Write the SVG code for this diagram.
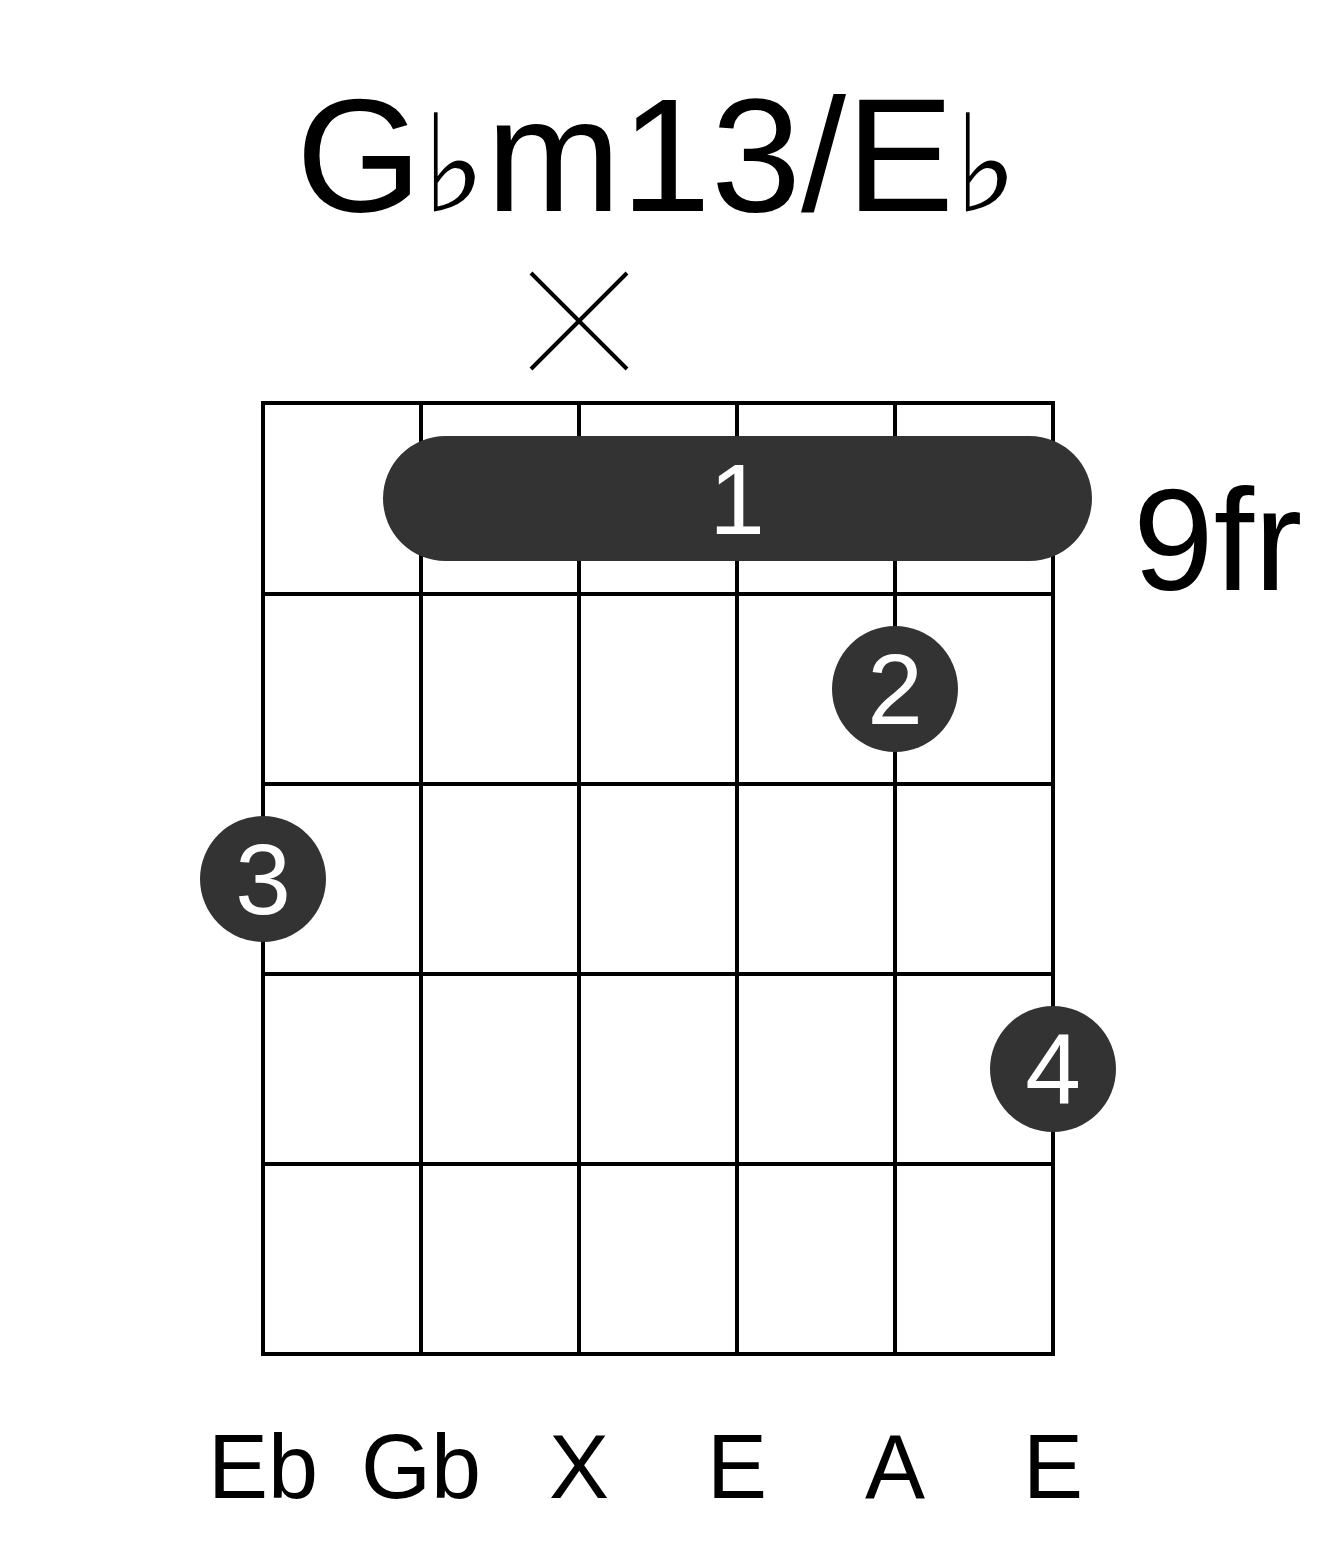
<svg xmlns="http://www.w3.org/2000/svg" width="1317" height="1551" viewBox="0 0 1317 1551">
<style>
text{font-family:"Liberation Sans",Arial,sans-serif;}
.g{stroke:#000;stroke-width:4;fill:none}
.d{fill:#333}
.w{fill:#fff;font-size:100px;text-anchor:middle}
.l{font-size:90px;text-anchor:middle}
</style>
<rect width="1317" height="1551" fill="#fff"/>
<g id="title"><text x="657" y="211" font-size="162" text-anchor="middle">G<tspan font-size="135">♭</tspan>m13/E<tspan font-size="135">♭</tspan></text></g>
<g id="mute"><path class="g" d="M531 273L627 369M627 273L531 369"/></g>
<g id="grid">
<rect class="g" x="263" y="403" width="790" height="951"/>
<path class="g" d="M421 403V1354M579 403V1354M737 403V1354M895 403V1354M263 594H1053M263 784H1053M263 974H1053M263 1164H1053"/>
</g>
<g id="barre"><rect class="d" x="383" y="436" width="709" height="125" rx="62.5"/><text class="w" x="737" y="534">1</text></g>
<g id="f2"><circle class="d" cx="895" cy="689" r="63"/><text class="w" x="895" y="724">2</text></g>
<g id="f3"><circle class="d" cx="263" cy="879" r="63"/><text class="w" x="263" y="914">3</text></g>
<g id="f4"><circle class="d" cx="1053" cy="1069" r="63"/><text class="w" x="1053" y="1104">4</text></g>
<g id="fret"><text x="1133" y="590" font-size="145">9fr</text></g>
<g id="labels">
<text class="l" x="263" y="1498">Eb</text><text class="l" x="421" y="1498">Gb</text><text class="l" x="579" y="1498">X</text>
<text class="l" x="737" y="1498">E</text><text class="l" x="895" y="1498">A</text><text class="l" x="1053" y="1498">E</text>
</g>
</svg>
